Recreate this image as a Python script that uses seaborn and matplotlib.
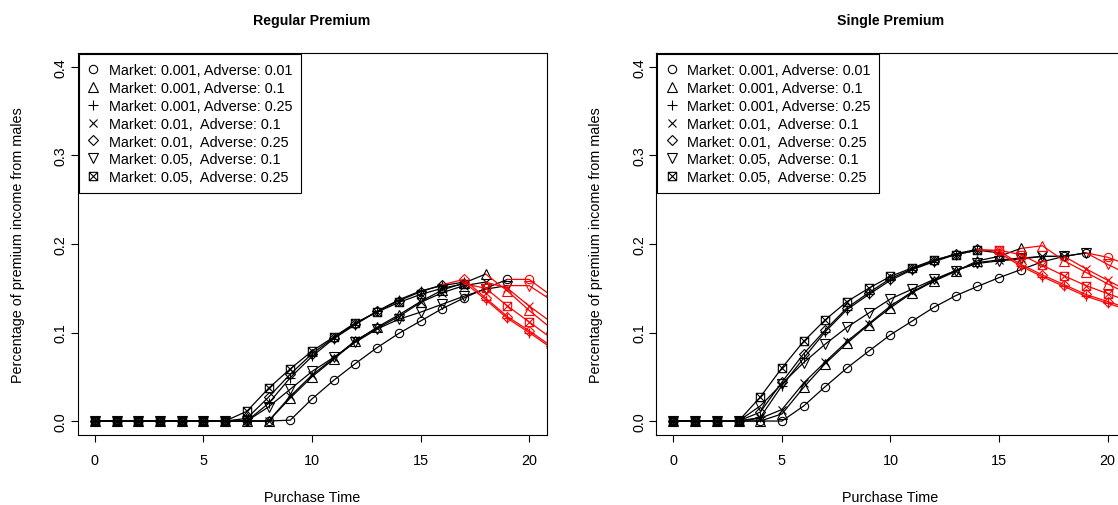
import numpy as np
import matplotlib
matplotlib.use("Agg")
import matplotlib.pyplot as plt
from matplotlib.path import Path
from matplotlib.lines import Line2D
import seaborn as sns

# Purchase times (the last point lies just past the visible x range)
purchase_time = list(range(22))

series_labels = [
    "Market: 0.001, Adverse: 0.01",
    "Market: 0.001, Adverse: 0.1",
    "Market: 0.001, Adverse: 0.25",
    "Market: 0.01,  Adverse: 0.1",
    "Market: 0.01,  Adverse: 0.25",
    "Market: 0.05,  Adverse: 0.1",
    "Market: 0.05,  Adverse: 0.25",
]

# ---- Regular premium: share of premium income from males ----
reg_m001_a001 = [0, 0, 0, 0, 0, 0, 0, 0, 0, 0.001, 0.025, 0.046, 0.065, 0.083,
                 0.099, 0.113, 0.127, 0.139, 0.150, 0.160, 0.160, 0.142]
reg_m001_a01 = [0, 0, 0, 0, 0, 0, 0, 0, 0, 0.026, 0.050, 0.070, 0.090, 0.106,
                0.120, 0.135, 0.148, 0.156, 0.166, 0.147, 0.125, 0.105]
reg_m001_a025 = [0, 0, 0, 0, 0, 0, 0, 0, 0.020, 0.049, 0.073, 0.093, 0.109, 0.124,
                 0.137, 0.147, 0.153, 0.157, 0.137, 0.116, 0.100, 0.083]
reg_m01_a01 = [0, 0, 0, 0, 0, 0, 0, 0, 0, 0.028, 0.052, 0.071, 0.091, 0.105,
               0.118, 0.134, 0.145, 0.153, 0.157, 0.150, 0.130, 0.112]
reg_m01_a025 = [0, 0, 0, 0, 0, 0, 0, 0.003, 0.027, 0.053, 0.076, 0.094, 0.110, 0.124,
                0.136, 0.146, 0.154, 0.160, 0.139, 0.118, 0.102, 0.085]
reg_m05_a01 = [0, 0, 0, 0, 0, 0, 0, 0, 0.016, 0.036, 0.056, 0.072, 0.089, 0.104,
               0.115, 0.123, 0.132, 0.141, 0.149, 0.153, 0.153, 0.137]
reg_m05_a025 = [0, 0, 0, 0, 0, 0, 0, 0.011, 0.037, 0.059, 0.079, 0.095, 0.111, 0.123,
                0.134, 0.143, 0.150, 0.155, 0.150, 0.130, 0.112, 0.094]
# first purchase time drawn in red for each series
reg_red_from = [20, 19, 18, 19, 17, 20, 18]

# ---- Single premium ----
sgl_m001_a001 = [0, 0, 0, 0, 0, 0, 0.017, 0.039, 0.060, 0.079, 0.0975, 0.113, 0.1285,
                 0.1416, 0.152, 0.162, 0.171, 0.180, 0.186, 0.190, 0.185, 0.176]
sgl_m001_a01 = [0, 0, 0, 0, 0, 0.008, 0.038, 0.065, 0.088, 0.109, 0.128, 0.145, 0.158,
                0.169, 0.181, 0.186, 0.195, 0.198, 0.181, 0.168, 0.155, 0.143]
sgl_m001_a025 = [0, 0, 0, 0, 0.004, 0.040, 0.071, 0.101, 0.126, 0.143, 0.159, 0.171, 0.180,
                 0.188, 0.193, 0.190, 0.175, 0.163, 0.152, 0.141, 0.133, 0.125]
sgl_m01_a01 = [0, 0, 0, 0, 0.003, 0.013, 0.043, 0.067, 0.090, 0.110, 0.130, 0.146, 0.159,
               0.170, 0.179, 0.182, 0.184, 0.186, 0.186, 0.172, 0.159, 0.146]
sgl_m01_a025 = [0, 0, 0, 0, 0.010, 0.044, 0.076, 0.103, 0.128, 0.145, 0.161, 0.172, 0.181,
                0.189, 0.194, 0.192, 0.177, 0.165, 0.154, 0.143, 0.135, 0.127]
sgl_m05_a01 = [0, 0, 0, 0, 0.017, 0.042, 0.066, 0.087, 0.106, 0.122, 0.138, 0.149, 0.160,
               0.170, 0.178, 0.181, 0.183, 0.186, 0.186, 0.190, 0.177, 0.165]
sgl_m05_a025 = [0, 0, 0, 0, 0.027, 0.060, 0.090, 0.1145, 0.135, 0.150, 0.1635, 0.173, 0.182,
                0.188, 0.193, 0.193, 0.188, 0.176, 0.164, 0.153, 0.144, 0.135]
sgl_red_from = [20, 17, 16, 19, 15, 20, 15]

x_ticks = [0, 5, 10, 15, 20]
y_ticks = [0.0, 0.1, 0.2, 0.3, 0.4]
y_tick_labels = ["0.0", "0.1", "0.2", "0.3", "0.4"]

# Square with a cross inside
box_x = Path(
    [(-1, -1), (1, -1), (1, 1), (-1, 1), (-1, -1), (-1, -1), (1, 1), (-1, 1), (1, -1)],
    [Path.MOVETO, Path.LINETO, Path.LINETO, Path.LINETO, Path.CLOSEPOLY,
     Path.MOVETO, Path.LINETO, Path.MOVETO, Path.LINETO],
)
marker_styles = [
    ("o", 6.0), ("^", 6.5), ("+", 7.0), ("x", 6.0), ("D", 5.0), ("v", 6.5), (box_x, 6.0),
]

sns.set_theme(style="ticks")
plt.rcParams["font.family"] = ["Liberation Sans", "DejaVu Sans"]
plt.rcParams.update({
    "text.color": "black",
    "axes.labelcolor": "black",
    "xtick.color": "black",
    "ytick.color": "black",
    "axes.edgecolor": "black",
})

FS = 10.4
fig = plt.figure(figsize=(11.18, 5.06), dpi=100)
W, H = 1118, 506


def make_axes(left_px):
    return fig.add_axes([left_px / W, (H - 436.2) / H, 469 / W, 382.4 / H])


def draw_panel(ax, all_values, red_from, title):
    t = np.array(purchase_time)
    common = dict(ax=ax, errorbar=None, estimator=None, linewidth=0.9,
                  markerfacecolor="none", markeredgewidth=0.8)
    # rising part in black
    for vals, k, (mk, ms) in zip(all_values, red_from, marker_styles):
        v = np.array(vals)
        keep = t <= k - 1
        sns.lineplot(x=t[keep], y=v[keep], color="black", marker=mk, markersize=ms,
                     markeredgecolor="black", **common)
    # later purchase times in red
    for vals, k, (mk, ms) in zip(all_values, red_from, marker_styles):
        v = np.array(vals)
        keep = t >= k - 1
        n = int(keep.sum())
        sns.lineplot(x=t[keep], y=v[keep], color="red", marker=mk, markersize=ms,
                     markeredgecolor="red", markevery=list(range(1, n)), **common)

    ax.set_xlim(-0.8, 20.8)
    ax.set_ylim(-0.016, 0.416)
    ax.set_xticks(x_ticks)
    ax.set_xticklabels([str(v) for v in x_ticks], fontsize=FS, color="black")
    ax.set_yticks(y_ticks)
    ax.set_yticklabels(y_tick_labels, fontsize=FS, rotation=90, va="center", color="black")
    ax.tick_params(axis="both", direction="out", length=5, width=0.8, color="black")
    ax.tick_params(axis="x", pad=8)
    ax.tick_params(axis="y", pad=2)
    for sp in ax.spines.values():
        sp.set_visible(True)
        sp.set_color("black")
        sp.set_linewidth(0.8)
    ax.set_xlabel("Purchase Time", fontsize=FS, color="black")
    ax.set_ylabel("Percentage of premium income from males", fontsize=FS, color="black")
    ax.xaxis.set_label_coords(0.5, -0.143)
    ax.yaxis.set_label_coords(-0.113, 0.5)
    ax.set_title(title, fontsize=10.2, fontweight="bold", pad=21, color="black")

    handles = [Line2D([], [], linestyle="none", marker=mk, markersize=ms,
                      markerfacecolor="none", markeredgecolor="black",
                      markeredgewidth=0.8, color="black")
               for mk, ms in marker_styles]
    leg = ax.legend(handles, series_labels, loc="upper left", bbox_to_anchor=(0, 1),
                    borderaxespad=0.1, frameon=True, fancybox=False, fontsize=FS,
                    borderpad=0.6, handlelength=0.8, handletextpad=0.65,
                    labelspacing=0.27)
    for txt in leg.get_texts():
        txt.set_color("black")
    leg.get_frame().set_edgecolor("black")
    leg.get_frame().set_linewidth(0.8)
    leg.get_frame().set_facecolor("white")
    leg.get_frame().set_alpha(1)


ax1 = make_axes(77.5)
draw_panel(ax1,
           [reg_m001_a001, reg_m001_a01, reg_m001_a025, reg_m01_a01,
            reg_m01_a025, reg_m05_a01, reg_m05_a025],
           reg_red_from, "Regular Premium")

ax2 = make_axes(656)
draw_panel(ax2,
           [sgl_m001_a001, sgl_m001_a01, sgl_m001_a025, sgl_m01_a01,
            sgl_m01_a025, sgl_m05_a01, sgl_m05_a025],
           sgl_red_from, "Single Premium")

fig.savefig("out.png", dpi=100, facecolor="white")
